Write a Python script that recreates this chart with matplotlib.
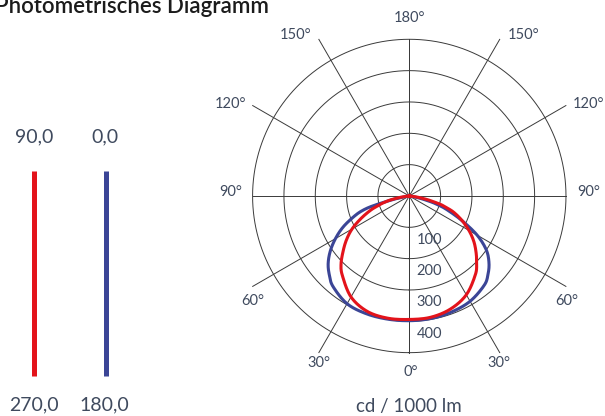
import numpy as np
import matplotlib
matplotlib.use('Agg')
from matplotlib import pyplot as plt

plt.rcParams['font.family'] = ['Lato', 'DejaVu Sans']

# luminous intensity in cd / 1000 lm
gamma = [0, 10, 20, 30, 40, 45, 50, 55, 60, 65, 70, 73, 75, 78, 80, 82, 85, 90]
# C0 / C180 plane (blue)
c180 = [398, 399, 400, 397, 378, 360, 338, 308, 272, 232, 185, 153, 115, 50, 15, 5, 0, 0]
c0 = [398, 397, 394, 388, 372, 355, 332, 300, 250, 185, 128, 95, 70, 35, 12, 4, 0, 0]
# C90 / C270 plane (red)
c270 = [394, 396, 392, 372, 332, 308, 276, 245, 211, 170, 130, 102, 88, 63, 40, 25, 8, 0]
c90 = [394, 393, 384, 364, 328, 304, 278, 251, 220, 186, 150, 120, 102, 65, 42, 25, 8, 0]

rings = [100, 200, 300, 400, 500]
ring_labels = ['100', '200', '300', '400']
spokes = [0, 30, 60, 90, 120, 150, 180]
angle_labels = ['0°', '30°', '60°', '90°', '120°', '150°', '180°']

blue = '#3b4596'
red = '#e3131b'
grid_c = '#3a3a3a'
txt_c = '#3f4a5e'

fig = plt.figure(figsize=(6.05, 4.16), dpi=100)
ax = fig.add_axes([0.4175, 0.1522, 0.518, 0.7534], projection='polar')
ax.set_theta_zero_location('S')
ax.set_ylim(0, 500)
ax.set_axis_off()

th = np.linspace(0, 2 * np.pi, 721)
for r in rings:
    ax.plot(th, np.full_like(th, r), color=grid_c, lw=0.7, clip_on=False)

for a in spokes:
    length = 500 if a % 90 == 0 else 577
    for s in (1, -1):
        t = np.deg2rad(s * a)
        ax.plot([t, t], [0, length], color=grid_c, lw=0.7, clip_on=False)


def curve(left, right, n=12):
    # join both half planes, smooth with a catmull-rom spline in x/y
    g = np.deg2rad(np.array(gamma, dtype=float))
    t = np.concatenate([-g[::-1], g[1:]])
    r = np.concatenate([np.array(left, float)[::-1], np.array(right, float)[1:]])
    p = np.column_stack([r * np.sin(t), r * np.cos(t)])
    p = np.vstack([p[0], p, p[-1]])
    out = []
    for i in range(1, len(p) - 2):
        p0, p1, p2, p3 = p[i - 1], p[i], p[i + 1], p[i + 2]
        for u in np.linspace(0, 1, n, endpoint=False):
            out.append(0.5 * (2 * p1 + (p2 - p0) * u
                              + (2 * p0 - 5 * p1 + 4 * p2 - p3) * u ** 2
                              + (3 * p1 - p0 - 3 * p2 + p3) * u ** 3))
    out.append(p[-2])
    out = np.array(out)
    return np.arctan2(out[:, 0], out[:, 1]), np.hypot(out[:, 0], out[:, 1])


t, r = curve(c180, c0)
ax.plot(t, r, color=blue, lw=2.2, clip_on=False, solid_joinstyle='round')
t, r = curve(c270, c90)
ax.plot(t, r, color=red, lw=2.2, clip_on=False, solid_joinstyle='round')

for val, lab in zip(rings, ring_labels):
    ax.annotate(lab, xy=(0, val), xytext=(14.4, -9), textcoords='offset points',
                ha='center', va='center', fontsize=10.5, color=txt_c)

# angle labels, pixel offsets from the centre (left side, mirrored for right)
offs = {0: (1, 176), 30: (90, 167), 60: (157, 105), 90: (179, -4),
        120: (179, -92), 150: (114, -161), 180: (0, -178)}
R = 313.4
for a, lab in zip(spokes, angle_labels):
    dx, dy = offs[a]
    sides = (1,) if dx <= 1 else (-1, 1)
    for s in sides:
        ax.text(0.5 + s * dx / R, 0.5 - dy / R, lab, transform=ax.transAxes,
                ha='center', va='center', fontsize=10.5, color=txt_c)

ax.text(0.5, 0.5 - 211 / R, 'cd / 1000 lm', transform=ax.transAxes,
        ha='center', va='center', fontsize=13.5, color=txt_c)

fig.text(-0.008, 1 - 13 / 416, 'Photometrisches Diagramm', va='baseline', ha='left',
         fontsize=16, fontweight='semibold', color='#1b1b1b')

# legend
lg = fig.add_axes([0, 0, 200 / 605, 1])
lg.set_xlim(0, 200)
lg.set_ylim(416, 0)
lg.set_axis_off()
lg.plot([34, 34], [171, 376], color=red, lw=3.6, solid_capstyle='butt')
lg.plot([105.5, 105.5], [171, 376], color=blue, lw=3.6, solid_capstyle='butt')
for x, y, s in [(34, 137, '90,0'), (105, 137, '0,0'), (34, 405, '270,0'), (104, 405, '180,0')]:
    lg.text(x, y, s, ha='center', va='center', fontsize=14, color=txt_c)

fig.savefig('out.png', dpi=100)
